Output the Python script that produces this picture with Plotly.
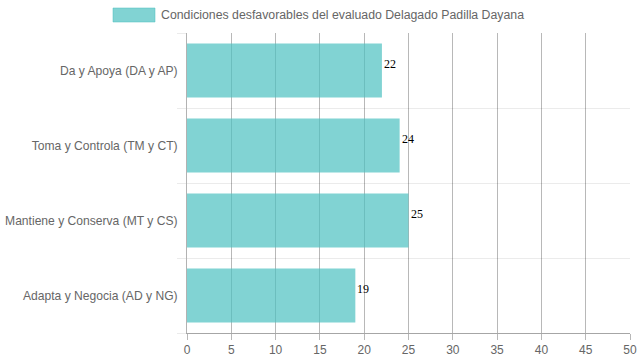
import plotly.graph_objects as go

categories = ["Da y Apoya (DA y AP)", "Toma y Controla (TM y CT)",
              "Mantiene y Conserva (MT y CS)", "Adapta y Negocia (AD y NG)"]
values = [22, 24, 25, 19]
series_name = "Condiciones desfavorables del evaluado Delagado Padilla Dayana"
x_ticks = [0, 5, 10, 15, 20, 25, 30, 35, 40, 45, 50]

BAR = "rgba(75,192,192,0.7)"
FONT = "Liberation Sans, Arial, Helvetica, sans-serif"
pos = list(range(len(categories)))

fig = go.Figure()
fig.add_trace(go.Bar(
    x=values, y=pos, orientation="h", width=0.72,
    marker=dict(color=BAR, line=dict(width=0)),
    name=series_name, showlegend=False, hoverinfo="x+text",
    hovertext=categories,
))
# invisible trace to activate the second y axis (category boundary grid)
fig.add_trace(go.Scatter(x=[None], y=[None], yaxis="y2", showlegend=False))

for p, v in zip(pos, values):
    fig.add_annotation(x=v, y=p, text=str(v), showarrow=False, xanchor="left",
                       xshift=0, yshift=7,
                       font=dict(family="Liberation Serif, Times New Roman, serif",
                                 size=12, color="#000"))

# legend substitute (wide colour box as in the reference)
fig.add_shape(type="rect", xref="paper", yref="paper",
              x0=(113 - 187) / 443, x1=(155 - 187) / 443,
              y0=(333 - 22) / 300, y1=(333 - 8) / 300,
              fillcolor=BAR, line=dict(color="rgba(75,192,192,0.5)", width=1))
fig.add_annotation(xref="paper", yref="paper", x=(159 - 187) / 443, y=(333 - 15) / 300,
                   text=series_name, showarrow=False, xanchor="left", yanchor="middle",
                   font=dict(family=FONT, size=12.3, color="#666"))

fig.update_layout(
    width=639, height=360,
    margin=dict(l=187, r=9, t=33, b=27, autoexpand=False),
    plot_bgcolor="white", paper_bgcolor="white",
    font=dict(family=FONT, size=12.3, color="#666"),
    xaxis=dict(range=[0, 50], tickvals=x_ticks, showgrid=True, automargin=False,
               gridcolor="rgba(0,0,0,0.28)", gridwidth=1, zeroline=False,
               showline=True, linecolor="rgba(0,0,0,0.35)", linewidth=1,
               ticks="outside", ticklen=6, tickcolor="rgba(0,0,0,0.28)",
               tickfont=dict(size=12, color="#666"), fixedrange=True),
    yaxis=dict(range=[3.5, -0.5], tickvals=pos, ticktext=categories, automargin=False,
               showgrid=False, zeroline=False, ticks="", ticklabelstandoff=6,
               showline=True, linecolor="rgba(0,0,0,0.3)", linewidth=1,
               tickfont=dict(size=12.1, color="#666"), fixedrange=True),
    yaxis2=dict(range=[3.5, -0.5], overlaying="y", side="left", automargin=False,
                tickvals=[-0.5, 0.5, 1.5, 2.5, 3.5], showticklabels=False,
                showgrid=True, gridcolor="rgba(0,0,0,0.08)", zeroline=False,
                ticks="outside", ticklen=9, tickcolor="rgba(0,0,0,0.08)",
                fixedrange=True),
)

fig.write_html("out.html", config={"displayModeBar": False},
               post_script="document.body.style.margin='0';"
                           "document.body.style.overflow='hidden';")
